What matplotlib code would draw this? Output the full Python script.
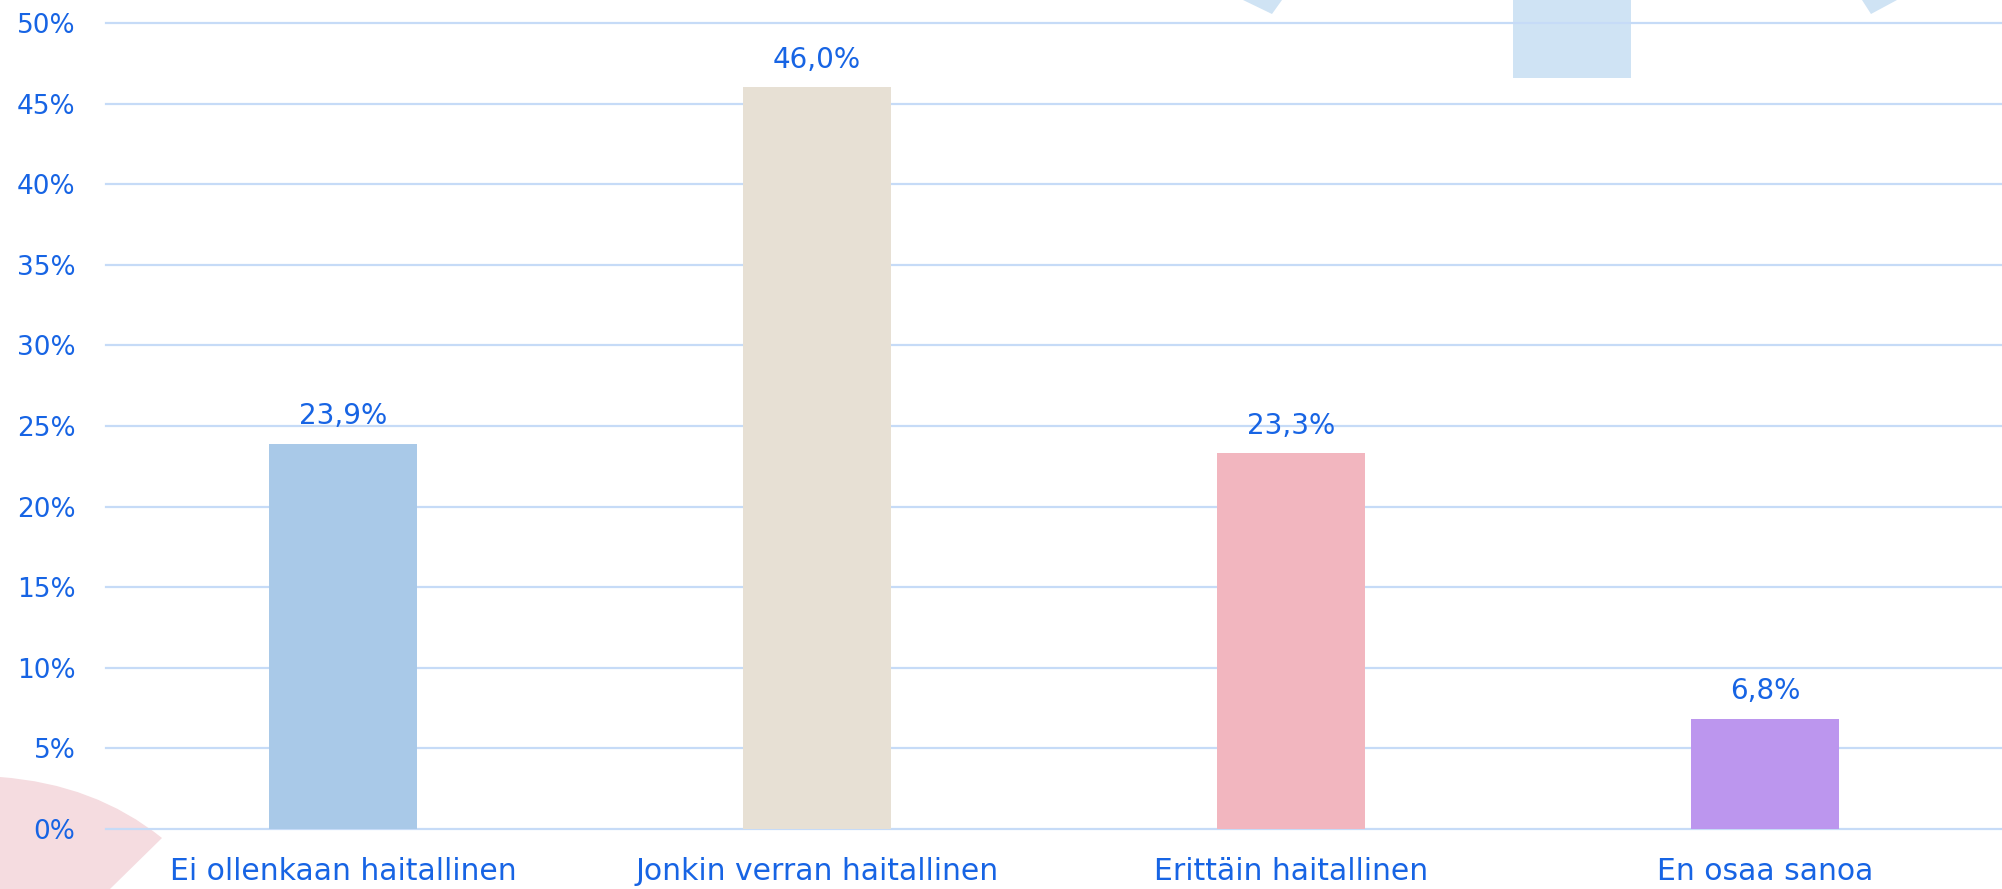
import matplotlib
matplotlib.use("Agg")
import matplotlib.pyplot as plt
from matplotlib.patches import Polygon, PathPatch
from matplotlib.path import Path

# data
categories = ["Ei ollenkaan haitallinen", "Jonkin verran haitallinen",
              "Erittäin haitallinen", "En osaa sanoa"]
values = [23.9, 46.0, 23.3, 6.8]
bar_colors = ["#A9C9E8", "#E7E0D4", "#F2B6BF", "#BC96EE"]
yticks = [0, 5, 10, 15, 20, 25, 30, 35, 40, 45, 50]

W, H = 2002, 889
text_color = "#1764E4"
grid_color = "#C6DBF7"
deco_blue = "#CFE3F4"
deco_pink = "#F5DCE0"

plt.rcParams["font.family"] = ["DejaVu Sans"]

fig = plt.figure(figsize=(W / 100, H / 100), dpi=100)


def px(x, y):
    # pixel coords (origin top-left) -> figure fraction
    return (x / W, 1 - y / H)


def deco(points, color):
    fig.patches.append(Polygon([px(*p) for p in points], closed=True,
                               transform=fig.transFigure, facecolor=color,
                               edgecolor="none", zorder=-1))


# background decorations (behind the axes)
deco([(1243, 0), (1282, 0), (1272, 14)], deco_blue)
deco([(1862, 0), (1897, 0), (1871, 14)], deco_blue)
deco([(1513, 0), (1631, 0), (1631, 78), (1513, 78)], deco_blue)
pink = Path([px(0, 777), px(95, 784), px(162, 838), px(110, 889), px(0, 889), px(0, 777)],
            [Path.MOVETO, Path.CURVE3, Path.CURVE3, Path.LINETO, Path.LINETO, Path.CLOSEPOLY])
fig.patches.append(PathPatch(pink, transform=fig.transFigure,
                             facecolor=deco_pink, edgecolor="none", zorder=-1))

ax = fig.add_axes([106 / W, 60 / H, 1 - 106 / W, (829 - 23) / H])
ax.patch.set_alpha(0)

x = range(len(categories))
bars = ax.bar(x, values, width=0.314, color=bar_colors, zorder=3)

for b, v in zip(bars, values):
    ax.annotate(f"{v:.1f}%".replace(".", ","),
                (b.get_x() + b.get_width() / 2, v),
                xytext=(0, 10), textcoords="offset points",
                ha="center", va="bottom", fontsize=20, color=text_color)

ax.set_xlim(-0.5, len(categories) - 0.5)
ax.set_ylim(0, 50)
ax.set_yticks(yticks)
ax.set_yticklabels([f"{t}%" for t in yticks])
ax.set_xticks(list(x))
ax.set_xticklabels(categories)
ax.tick_params(axis="both", length=0, labelcolor=text_color)
ax.tick_params(axis="y", pad=22, labelsize=19)
ax.tick_params(axis="x", pad=20, labelsize=21.5)

ax.yaxis.grid(True, color=grid_color, linewidth=1.6, zorder=0)
for gl in ax.get_ygridlines():
    gl.set_clip_on(False)
ax.set_axisbelow(True)
for s in ax.spines.values():
    s.set_visible(False)

fig.savefig("out.png", dpi=100)
